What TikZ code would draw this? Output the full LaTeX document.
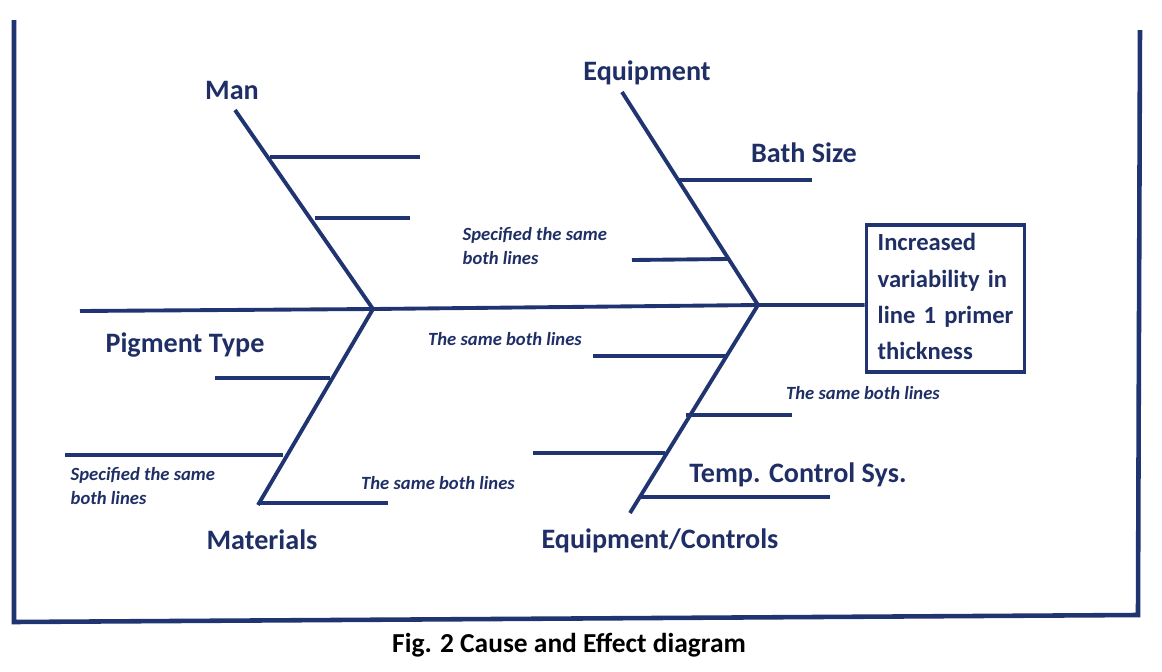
\documentclass[tikz,border=0pt]{standalone}
\usepackage{fontspec}
\setmainfont{Carlito}
\definecolor{navy}{HTML}{1F3470}
\definecolor{txt}{HTML}{1F2F66}
\begin{document}
\begin{tikzpicture}[x=0.01cm,y=-0.01cm,
  ln/.style={navy,line width=1.1pt},
  big/.style={txt,font=\fontsize{8}{9}\selectfont\bfseries,inner sep=0},
  sm/.style={txt,font=\fontsize{5.3}{7}\selectfont\bfseries\itshape,inner sep=0,align=left}]
\useasboundingbox (0,0) rectangle (1162,672);
% frame
\draw[navy,line width=1.3pt] (14,20) -- (14,622) -- (1138,615) -- (1140,30);
% spine and head
\coordinate (t) at (80,311);
\coordinate (j1) at (373,309);
\coordinate (j2) at (758,305);
\node[draw=navy,line width=1.1pt,minimum width=1.58cm,minimum height=1.47cm,inner sep=0] (head) at (945.5,298.5) {};
\node[txt,font=\fontsize{7}{10.3}\selectfont\bfseries,align=left,text width=1.45cm,inner sep=0,anchor=north west] (ht) at (877,233) {\raggedright Increased\\variability in\\line 1 primer\\thickness};
\draw[ln] (t) -- (j1) -- (j2) -- (j2 -| head.west);
% bones
\coordinate (m) at (235,110); \coordinate (mt) at (258,505);
\coordinate (e) at (622,92); \coordinate (ec) at (630,513);
\draw[ln] (m) -- (j1) -- (mt);
\draw[ln] (e) -- (j2) -- (ec);
% sub lines
\draw[ln] (270,157) -- (420,157);
\draw[ln] (315,218) -- (410,218);
\draw[ln] (215,378) -- (330,378);
\draw[ln] (65,455) -- (283,455);
\draw[ln] (258,503) -- (388,503);
\draw[ln] (678,180) -- (812,180);
\draw[ln] (632,260) -- (728,259);
\draw[ln] (593,356) -- (727,356);
\draw[ln] (686,415) -- (792,415);
\draw[ln] (533,453) -- (665,453);
\draw[ln] (640,497) -- (830,497);
% labels
\node[big] (lm) at (232,90) {Man};
\node[big] (le) at (647,73) {Equipment};
\node[big] (lb) at (804,153) {Bath Size};
\node[big] (lp) at (185,345) {Pigment Type};
\node[big] (lt) at (798,475) {Temp. Control Sys.};
\node[big] (lma) at (262,540) {Materials};
\node[big] (lec) at (660,541) {Equipment/Controls};
\node[sm,anchor=west] (s1) at (462,246) {Specified the same\\both lines};
\node[sm,anchor=west] (s2) at (70,486) {Specified the same\\both lines};
\node[sm] (s3) at (505,339) {The same both lines};
\node[sm] (s4) at (863,393) {The same both lines};
\node[sm] (s5) at (438,483) {The same both lines};
\node[font=\fontsize{7.8}{9}\selectfont\bfseries,inner sep=0] (cap) at (569,645) {Fig. 2 Cause and Effect diagram};
\end{tikzpicture}
\end{document}
